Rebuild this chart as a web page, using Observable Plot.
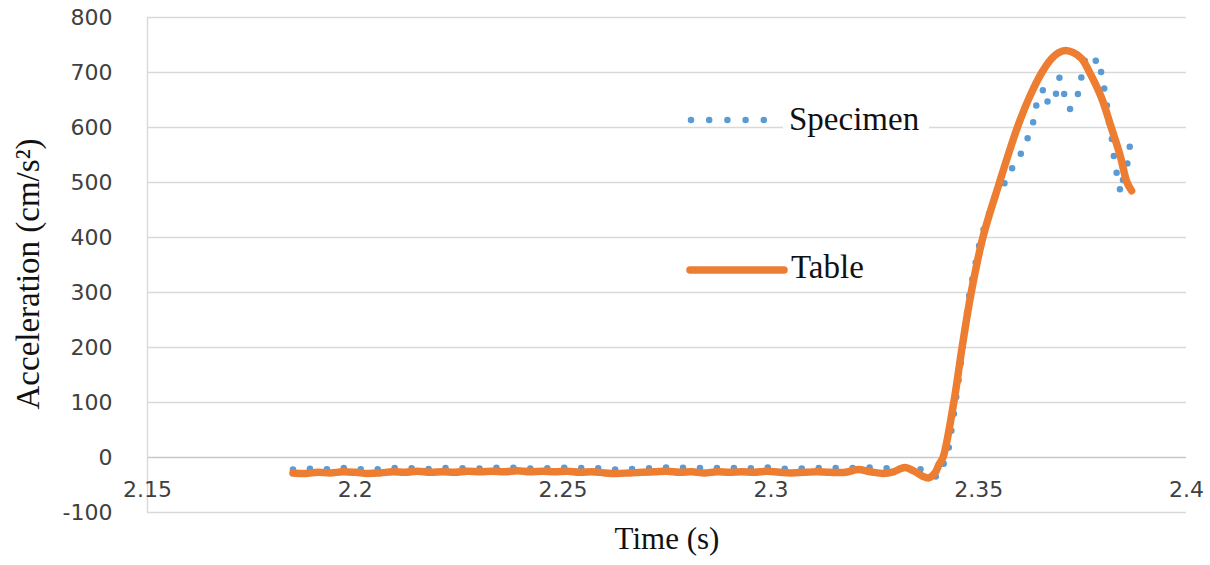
<!DOCTYPE html>
<html>
<head>
<meta charset="utf-8">
<script src="https://cdn.jsdelivr.net/npm/d3@7"></script>
<script src="https://cdn.jsdelivr.net/npm/@observablehq/plot@0.6"></script>
<style>
  html, body { margin: 0; padding: 0; background: #fff; }
  #wrap { position: relative; width: 1210px; height: 565px; }
  #legend { position: absolute; left: 0; top: 0; pointer-events: none; }
</style>
</head>
<body>
<div id="wrap"></div>
<script>
// ---- data ----
const yTicks = [-100, 0, 100, 200, 300, 400, 500, 600, 700, 800];
const xTicks = [2.15, 2.2, 2.25, 2.3, 2.35, 2.4];
const xTickLabels = ["2.15", "2.2", "2.25", "2.3", "2.35", "2.4"];
const seriesNames = ["Specimen", "Table"];

// Table (orange) time (s) and acceleration (cm/s^2)
const tableTime = [
  2.185, 2.188, 2.191, 2.194, 2.197, 2.200, 2.203, 2.206, 2.209, 2.212,
  2.215, 2.218, 2.221, 2.224, 2.227, 2.230, 2.233, 2.236, 2.239, 2.242,
  2.245, 2.248, 2.251, 2.254, 2.257, 2.260, 2.263, 2.266, 2.269, 2.272,
  2.275, 2.278, 2.281, 2.284, 2.287, 2.290, 2.293, 2.296, 2.299, 2.302,
  2.305, 2.308, 2.311, 2.314, 2.318, 2.321, 2.324, 2.327, 2.3295, 2.3322,
  2.3345, 2.3365, 2.3380, 2.3395, 2.3405, 2.3414, 2.3440, 2.3460, 2.3482, 2.3510,
  2.3550, 2.3593, 2.3625, 2.3652, 2.3675, 2.3692, 2.3709, 2.3728, 2.3748, 2.3767,
  2.3795, 2.3819, 2.3840, 2.3857, 2.3868
];
const tableAccel = [
  -28, -29, -27, -28, -26, -27, -29, -28, -26, -27,
  -25, -27, -26, -27, -25, -26, -25, -26, -24, -26,
  -25, -26, -25, -27, -26, -28, -29, -28, -27, -26,
  -25, -27, -26, -28, -26, -27, -26, -27, -25, -27,
  -28, -27, -26, -27, -27, -22, -26, -29, -26, -18,
  -25, -34, -37, -28, -12, 0, 100, 200, 300, 400,
  500, 600, 660, 700, 725, 736, 740, 736, 725, 700,
  655, 600, 550, 500, 485
];

// Specimen (blue dotted) time (s) and acceleration (cm/s^2)
const specimenTime = [
  2.185, 2.188, 2.191, 2.194, 2.197, 2.200, 2.203, 2.206, 2.209, 2.212,
  2.215, 2.218, 2.221, 2.224, 2.227, 2.230, 2.233, 2.236, 2.239, 2.242,
  2.245, 2.248, 2.251, 2.254, 2.257, 2.260, 2.263, 2.266, 2.269, 2.272,
  2.275, 2.278, 2.281, 2.284, 2.287, 2.290, 2.293, 2.296, 2.299, 2.302,
  2.305, 2.308, 2.311, 2.314, 2.317, 2.320, 2.323, 2.326, 2.329, 2.332,
  2.334, 2.3367, 2.3385, 2.3401, 2.3415, 2.3427, 2.3442, 2.3455, 2.3478, 2.3505,
  2.3537, 2.3573, 2.3585, 2.3606, 2.3618, 2.3630, 2.3636, 2.3643, 2.3658, 2.3664,
  2.3678, 2.3688, 2.3694, 2.3702, 2.3709, 2.3719, 2.3735, 2.3744, 2.3749, 2.3757,
  2.3771, 2.3789, 2.3795, 2.3801, 2.3807, 2.3811, 2.3815, 2.3822, 2.3825, 2.3831,
  2.3835, 2.3843, 2.3847, 2.3857, 2.3862, 2.3866
];
const specimenAccel = [
  -22, -21, -20, -22, -19, -21, -22, -21, -19, -20,
  -19, -21, -19, -20, -19, -20, -18, -20, -18, -20,
  -19, -20, -18, -19, -18, -21, -22, -21, -20, -19,
  -18, -19, -18, -20, -19, -20, -18, -20, -18, -20,
  -21, -20, -19, -20, -18, -19, -18, -19, -20, -19,
  -20, -22, -30, -36, -13, 13, 88, 160, 300, 400,
  470, 511, 535, 557, 581, 605, 631, 655, 672, 648,
  642, 666, 691, 674, 649, 633, 650, 676, 701, 727,
  716, 725, 699, 675, 650, 624, 600, 573, 549, 523,
  498, 481, 504, 531, 556, 581
];

const blue = "#5B9BD5";
const orange = "#ED7D31";
const grid = "#d9d9d9";
const tickColor = "#404040";

const table = tableTime.map((t, i) => ({t, a: tableAccel[i]}));
const specimen = specimenTime.map((t, i) => ({t, a: specimenAccel[i]}));
const xt = xTicks.map((v, i) => ({v, label: xTickLabels[i]}));

const chart = Plot.plot({
  width: 1210,
  height: 565,
  marginLeft: 147,
  marginRight: 24,
  marginTop: 17,
  marginBottom: 53,
  x: {domain: [2.15, 2.4], axis: null},
  y: {domain: [-100, 800], axis: null},
  style: {background: "white", fontFamily: "DejaVu Sans"},
  marks: [
    Plot.ruleY(yTicks, {stroke: d => d === 0 ? "#c8c8c8" : grid, strokeWidth: 1.4}),
    Plot.ruleX([xTicks[0]], {stroke: grid, strokeWidth: 1.4}),
    Plot.axisY(yTicks, {tickSize: 0, tickPadding: 35, fontSize: 22, fill: tickColor, label: null, tickFormat: d => String(d), fontFamily: "DejaVu Sans"}),
    Plot.text(xt, {x: "v", y: () => 0, text: "label", dy: 32, fontSize: 22, fill: tickColor, fontFamily: "DejaVu Sans"}),
    Plot.line(specimen, {x: "t", y: "a", stroke: blue, strokeWidth: 6.5, strokeDasharray: "0 17", strokeLinecap: "round", curve: "linear"}),
    Plot.line(table, {x: "t", y: "a", stroke: orange, strokeWidth: 7.5, strokeLinecap: "round", strokeLinejoin: "round", curve: "catmull-rom"}),
    Plot.text(["Time (s)"], {frameAnchor: "bottom", dy: 36, fontSize: 31, fill: "#111", fontFamily: "Liberation Serif"}),
    Plot.text(["Acceleration (cm/s²)"], {frameAnchor: "left", textAnchor: "middle", dx: -119, dy: 9, rotate: -90, fontSize: 33, fill: "#111", fontFamily: "Liberation Serif"})
  ]
});

const wrap = document.getElementById("wrap");
wrap.appendChild(chart);

// legend overlay (inside the plot area, as in the reference)
const ns = "http://www.w3.org/2000/svg";
const leg = document.createElementNS(ns, "svg");
leg.setAttribute("id", "legend");
leg.setAttribute("width", 1210);
leg.setAttribute("height", 565);
leg.innerHTML = `
  <rect x="783" y="104" width="146" height="40" fill="white"/>
  <line x1="691" y1="120" x2="764" y2="120" stroke="${blue}" stroke-width="6.5" stroke-dasharray="0 18.2" stroke-linecap="round"/>
  <text x="789" y="122" dominant-baseline="middle" font-family="Liberation Serif" font-size="33" fill="#111">${seriesNames[0]}</text>
  <line x1="690" y1="270" x2="784" y2="270" stroke="${orange}" stroke-width="7.5" stroke-linecap="round"/>
  <text x="791" y="270" dominant-baseline="middle" font-family="Liberation Serif" font-size="33" fill="#111">${seriesNames[1]}</text>
`;
wrap.appendChild(leg);
</script>
</body>
</html>
